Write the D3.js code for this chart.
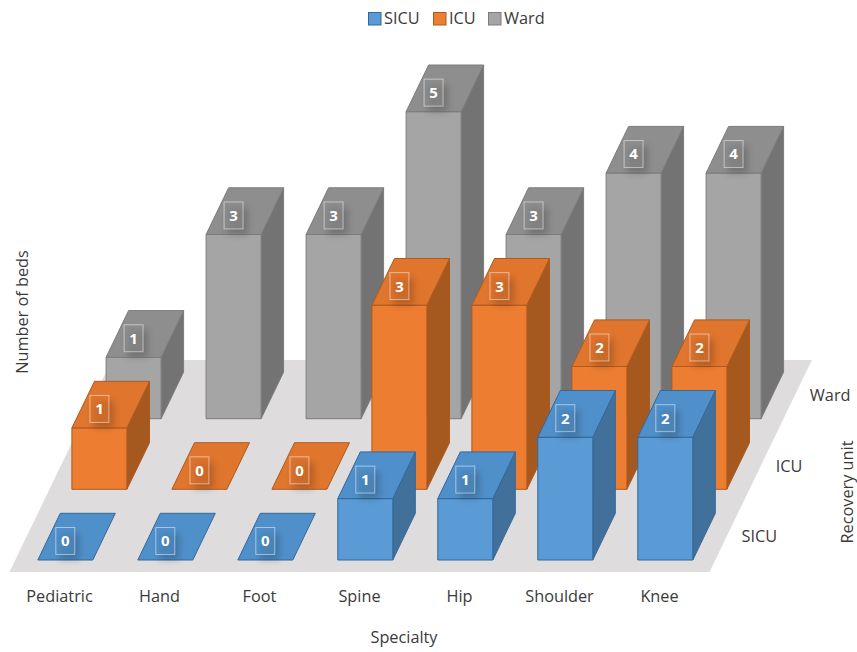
<!DOCTYPE html>
<html>
<head>
<meta charset="utf-8">
<script src="https://cdn.jsdelivr.net/npm/d3@7/dist/d3.min.js"></script>
<style>
  html, body { margin: 0; padding: 0; background: #fff; }
  svg { display: block; }
  text { font-family: "Open Sans", "Noto Sans", sans-serif; fill: #3a3a3a; }
</style>
</head>
<body>
<div id="chart"></div>
<script>
const categories = ["Pediatric", "Hand", "Foot", "Spine", "Hip", "Shoulder", "Knee"];
const units = ["SICU", "ICU", "Ward"];
const sicuBeds = [0, 0, 0, 1, 1, 2, 2];
const icuBeds = [1, 0, 0, 3, 3, 2, 2];
const wardBeds = [1, 3, 3, 5, 3, 4, 4];
const maxBeds = 5;
const faceColors = {
  SICU: { front: "#5b9bd5", top: "#5090ca", side: "#41709b", edge: "#33689c" },
  ICU: { front: "#ed7d31", top: "#e0752d", side: "#a5591f", edge: "#ad5a20" },
  Ward: { front: "#a5a5a5", top: "#8e8e8e", side: "#737373", edge: "#7c7c7c" }
};

const width = 857, height = 652;
const floorLeft = 9.5, floorFront = 572, floorWidth = 700, floorDepth = 212, shear = 0.483;

const svg = d3.select("#chart").append("svg").attr("width", width).attr("height", height);
const defs = svg.append("defs");
defs.append("filter").attr("id", "soft")
  .attr("x", "-60%").attr("y", "-60%").attr("width", "220%").attr("height", "220%")
  .append("feGaussianBlur").attr("stdDeviation", 3.5);

const xScale = d3.scaleBand().domain(categories).range([0, floorWidth]).paddingInner(0.45).paddingOuter(0.225);
const depthScale = d3.scaleBand().domain(units).range([0, floorDepth]).paddingInner(0.34).paddingOuter(0.17);
const zScale = d3.scaleLinear().domain([0, maxBeds]).range([0, 307]);

// Oblique projection from floor coordinates and height to the page
const project = (x, d, z) => [floorLeft + x + d * shear, floorFront - d - z];
const polygon = pts => pts.map(p => p.map(v => v.toFixed(1)).join(",")).join(" ");

svg.append("polygon").attr("fill", "#dedcdd").attr("points", polygon([
  project(0, 0, 0), project(floorWidth, 0, 0), project(floorWidth, floorDepth, 0), project(0, floorDepth, 0)
]));

const series = [
  { unit: "Ward", values: wardBeds },
  { unit: "ICU", values: icuBeds },
  { unit: "SICU", values: sicuBeds }
];

// Rows are painted from the back of the floor to the front
const bars = series.flatMap(s => s.values.map((value, i) => ({ unit: s.unit, category: categories[i], value })));

const barGroups = svg.append("g").selectAll("g").data(bars).join("g")
  .attr("stroke-width", 1).attr("stroke-linejoin", "round")
  .attr("stroke", d => faceColors[d.unit].edge);

barGroups.each(function (d) {
  const g = d3.select(this);
  const x0 = xScale(d.category), x1 = x0 + xScale.bandwidth();
  const d0 = depthScale(d.unit), d1 = d0 + depthScale.bandwidth();
  const z = zScale(d.value);
  const c = faceColors[d.unit];
  if (d.value > 0) {
    g.append("polygon").attr("fill", c.side).attr("points", polygon([
      project(x1, d0, 0), project(x1, d1, 0), project(x1, d1, z), project(x1, d0, z)
    ]));
    g.append("polygon").attr("fill", c.front).attr("points", polygon([
      project(x0, d0, 0), project(x1, d0, 0), project(x1, d0, z), project(x0, d0, z)
    ]));
  }
  g.append("polygon").attr("fill", c.top).attr("points", polygon([
    project(x0, d0, z), project(x1, d0, z), project(x1, d1, z), project(x0, d1, z)
  ]));
});

// Value labels sit above the front edge of each bar's top face
const labels = svg.append("g").selectAll("g").data(bars).join("g")
  .attr("transform", d => {
    const [px, py] = project(xScale(d.category) + xScale.bandwidth() / 2, depthScale(d.unit), zScale(d.value));
    return `translate(${px},${py - 19})`;
  });
labels.append("rect")
  .attr("x", -6).attr("y", -8).attr("width", 20).attr("height", 27)
  .attr("fill", "#000").attr("opacity", 0.2).attr("filter", "url(#soft)");
labels.append("rect")
  .attr("x", -9.5).attr("y", -13.5).attr("width", 19).attr("height", 27)
  .attr("fill", d => faceColors[d.unit].top).attr("fill-opacity", 0.55)
  .attr("stroke", "#fff").attr("stroke-opacity", 0.5).attr("stroke-width", 1);
labels.append("text")
  .attr("text-anchor", "middle").attr("dy", "0.36em")
  .style("fill", "#fff").style("font-size", "15px").style("font-weight", 700)
  .text(d => d.value);

// Specialty axis along the front edge of the floor
const xAxis = d3.axisBottom(xScale).tickSize(0).tickPadding(0);
const axisG = svg.append("g")
  .attr("transform", `translate(${floorLeft},590)`)
  .call(xAxis);
axisG.select(".domain").remove();
axisG.selectAll("text").style("font-size", "16.3px").attr("dy", "0.71em");
axisG.attr("font-family", null);

// Recovery unit labels follow the slanted right edge of the floor
svg.append("g").selectAll("text").data(units).join("text")
  .attr("x", d => project(floorWidth, depthScale(d) + depthScale.bandwidth() / 2, 0)[0] + 15)
  .attr("y", d => project(floorWidth, depthScale(d) + depthScale.bandwidth() / 2, 0)[1])
  .attr("dy", "0.35em").style("font-size", "16.3px")
  .text(d => d);

const axisTitle = (x, y, rotate, label) => svg.append("text")
  .attr("transform", `translate(${x},${y}) rotate(${rotate})`)
  .attr("text-anchor", "middle").attr("dy", "0.35em")
  .style("font-size", "16.3px").text(label);
axisTitle(404, 637, 0, "Specialty");
axisTitle(22, 312, -90, "Number of beds");
axisTitle(847, 492, -90, "Recovery unit");

// Legend
const legendX = d3.scaleOrdinal().domain(units).range([368, 433, 488]);
const legend = svg.append("g").selectAll("g").data(units).join("g")
  .attr("transform", d => `translate(${legendX(d)},12)`);
legend.append("rect")
  .attr("x", 0.5).attr("y", 0.5).attr("width", 12.5).attr("height", 12.5)
  .attr("fill", d => faceColors[d].front).attr("stroke", d => faceColors[d].edge);
legend.append("text")
  .attr("x", 16).attr("y", 6.5).attr("dy", "0.35em")
  .style("font-size", "16.3px").text(d => d);
</script>
</body>
</html>
